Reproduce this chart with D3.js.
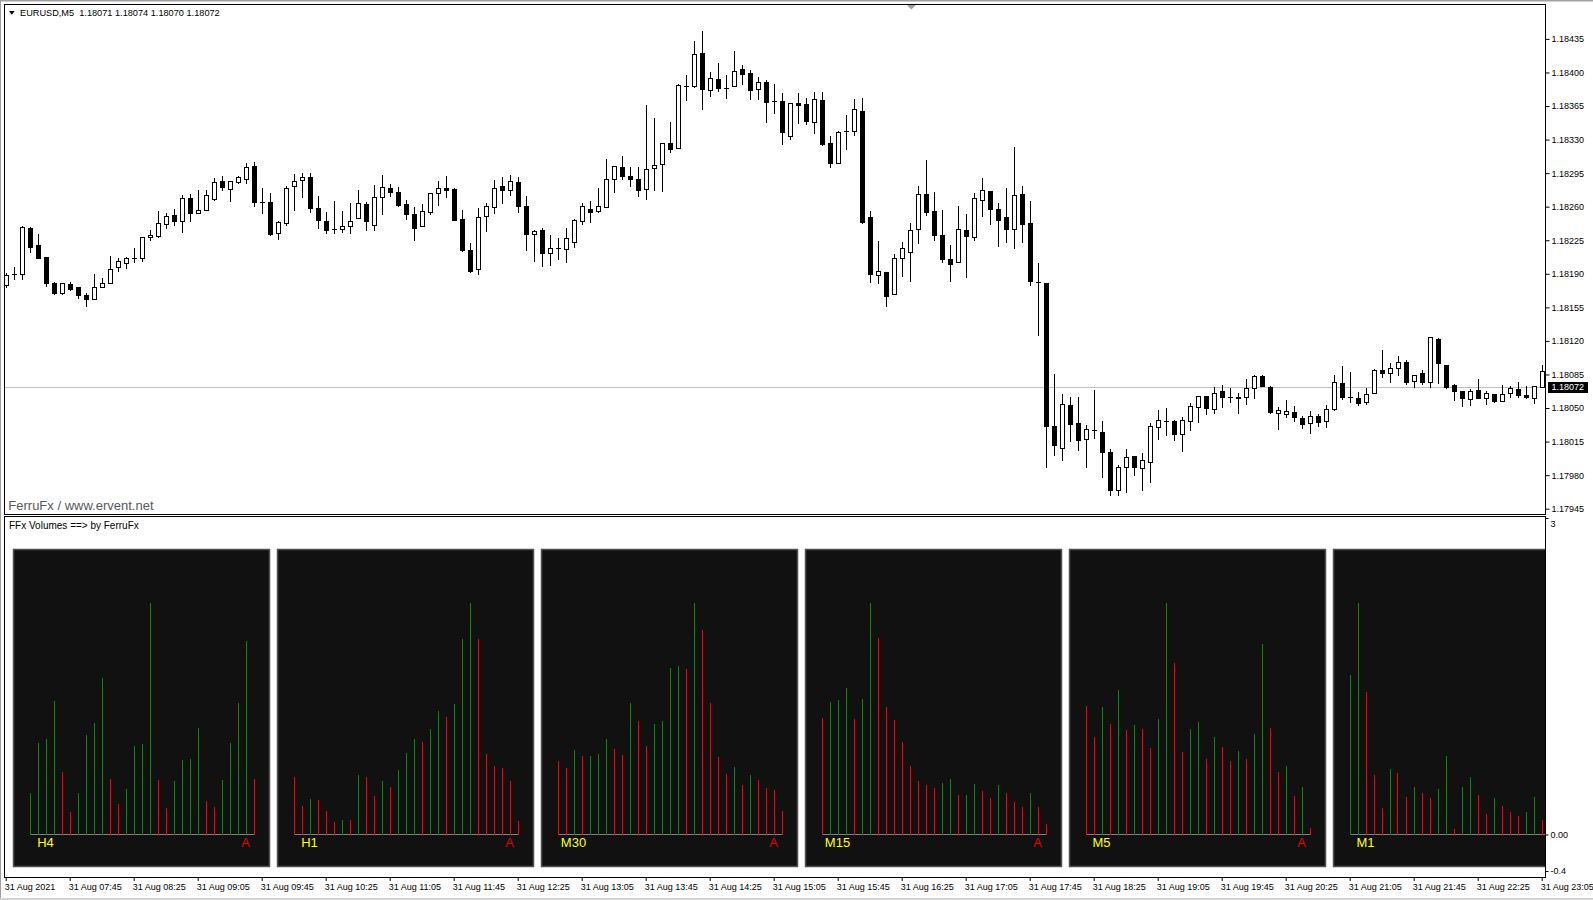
<!DOCTYPE html>
<html lang="en">
<head>
<meta charset="UTF-8">
<title>EURUSD,M5 - FFx Volumes</title>
<script src="https://d3js.org/d3.v7.min.js"></script>
<style>
  html, body { margin: 0; padding: 0; background: #fff; overflow: hidden; }
  svg { display: block; font-family: "Liberation Sans", Arial, sans-serif; }
</style>
</head>
<body>
<div id="chart"></div>
<script>
// EURUSD M5, 31 Aug 2021 07:05 .. 23:05 (193 bars)
const open = [
  1.18178,1.18190,1.18190,1.18238,1.18220,1.18208,1.18180,1.18170,1.18179,1.18176,
  1.18168,1.18164,1.18176,1.18180,1.18197,1.18201,1.18206,1.18206,1.18228,1.18229,
  1.18242,1.18251,1.18245,1.18269,1.18253,1.18257,1.18268,1.18287,1.18278,1.18286,
  1.18289,1.18302,1.18265,1.18265,1.18233,1.18243,1.18282,1.18288,1.18291,1.18259,
  1.18245,1.18237,1.18237,1.18240,1.18248,1.18263,1.18241,1.18270,1.18279,1.18275,
  1.18263,1.18252,1.18240,1.18254,1.18274,1.18280,1.18278,1.18247,1.18215,1.18195,
  1.18250,1.18260,1.18282,1.18277,1.18286,1.18261,1.18232,1.18236,1.18212,1.18217,
  1.18216,1.18223,1.18245,1.18258,1.18255,1.18260,1.18289,1.18301,1.18292,1.18289,
  1.18278,1.18300,1.18305,1.18326,1.18321,1.18386,1.18386,1.18420,1.18382,1.18393,
  1.18384,1.18386,1.18404,1.18399,1.18383,1.18390,1.18370,1.18370,1.18334,1.18368,
  1.18367,1.18348,1.18371,1.18326,1.18306,1.18339,1.18339,1.18360,1.18249,1.18189,
  1.18192,1.18169,1.18207,1.18213,1.18237,1.18273,1.18256,1.18230,1.18205,1.18202,
  1.18236,1.18228,1.18267,1.18276,1.18258,1.18249,1.18237,1.18273,1.18243,1.18181,
  1.18180,1.18031,1.18008,1.18053,1.18034,1.18018,1.18027,1.18025,1.18004,1.17964,
  1.17988,1.18000,1.17987,1.17994,1.18030,1.18036,1.18036,1.18023,1.18036,1.18051,
  1.18063,1.18049,1.18068,1.18061,1.18060,1.18061,1.18071,1.18083,1.18072,1.18045,
  1.18044,1.18046,1.18040,1.18034,1.18042,1.18036,1.18049,1.18076,1.18061,1.18060,
  1.18056,1.18066,1.18090,1.18087,1.18092,1.18098,1.18078,1.18087,1.18077,1.18122,
  1.18095,1.18074,1.18068,1.18059,1.18069,1.18060,1.18065,1.18057,1.18066,1.18070,
  1.18064,1.18060,1.18072
];
const high = [
  1.18191,1.18197,1.18240,1.18239,1.18231,1.18208,1.18181,1.18180,1.18181,1.18176,
  1.18170,1.18190,1.18186,1.18209,1.18207,1.18208,1.18217,1.18228,1.18236,1.18256,
  1.18253,1.18258,1.18272,1.18273,1.18277,1.18277,1.18290,1.18292,1.18287,1.18292,
  1.18306,1.18307,1.18280,1.18274,1.18245,1.18282,1.18294,1.18295,1.18295,1.18271,
  1.18254,1.18266,1.18256,1.18264,1.18277,1.18265,1.18283,1.18293,1.18284,1.18281,
  1.18267,1.18260,1.18263,1.18274,1.18287,1.18292,1.18279,1.18257,1.18222,1.18259,
  1.18264,1.18288,1.18291,1.18293,1.18291,1.18271,1.18236,1.18238,1.18230,1.18227,
  1.18238,1.18247,1.18264,1.18266,1.18279,1.18310,1.18302,1.18313,1.18301,1.18301,
  1.18366,1.18352,1.18326,1.18348,1.18388,1.18397,1.18433,1.18443,1.18400,1.18410,
  1.18397,1.18422,1.18408,1.18403,1.18395,1.18392,1.18388,1.18379,1.18368,1.18379,
  1.18373,1.18380,1.18380,1.18334,1.18339,1.18356,1.18372,1.18373,1.18255,1.18224,
  1.18192,1.18211,1.18223,1.18243,1.18282,1.18309,1.18275,1.18257,1.18220,1.18261,
  1.18252,1.18274,1.18290,1.18276,1.18264,1.18279,1.18322,1.18282,1.18266,1.18201,
  1.18180,1.18085,1.18065,1.18061,1.18061,1.18032,1.18069,1.18036,1.18007,1.17991,
  1.18007,1.18000,1.18003,1.18034,1.18048,1.18050,1.18038,1.18041,1.18055,1.18063,
  1.18063,1.18072,1.18074,1.18071,1.18066,1.18080,1.18084,1.18084,1.18073,1.18051,
  1.18058,1.18052,1.18042,1.18047,1.18044,1.18053,1.18084,1.18094,1.18088,1.18067,
  1.18071,1.18091,1.18111,1.18097,1.18104,1.18100,1.18084,1.18090,1.18124,1.18123,
  1.18095,1.18075,1.18068,1.18070,1.18080,1.18068,1.18065,1.18074,1.18073,1.18077,
  1.18073,1.18073,1.18095
];
const low = [
  1.18176,1.18185,1.18185,1.18213,1.18207,1.18177,1.18169,1.18169,1.18173,1.18165,
  1.18156,1.18164,1.18176,1.18180,1.18193,1.18196,1.18202,1.18203,1.18225,1.18228,
  1.18238,1.18241,1.18234,1.18245,1.18253,1.18257,1.18267,1.18277,1.18266,1.18285,
  1.18285,1.18261,1.18253,1.18230,1.18226,1.18241,1.18257,1.18270,1.18254,1.18238,
  1.18233,1.18233,1.18234,1.18233,1.18248,1.18236,1.18236,1.18252,1.18271,1.18261,
  1.18247,1.18225,1.18240,1.18252,1.18262,1.18270,1.18246,1.18214,1.18192,1.18190,
  1.18235,1.18253,1.18264,1.18272,1.18254,1.18215,1.18203,1.18198,1.18199,1.18205,
  1.18202,1.18218,1.18242,1.18244,1.18254,1.18260,1.18275,1.18289,1.18282,1.18271,
  1.18268,1.18277,1.18276,1.18317,1.18321,1.18371,1.18385,1.18362,1.18375,1.18381,
  1.18373,1.18386,1.18388,1.18372,1.18372,1.18348,1.18358,1.18325,1.18331,1.18347,
  1.18346,1.18337,1.18324,1.18301,1.18306,1.18320,1.18335,1.18243,1.18181,1.18180,
  1.18156,1.18169,1.18188,1.18182,1.18222,1.18251,1.18225,1.18202,1.18183,1.18202,
  1.18187,1.18225,1.18250,1.18242,1.18219,1.18223,1.18217,1.18223,1.18178,1.18126,
  1.17988,1.18001,1.17996,1.18016,1.18006,1.17989,1.18019,1.17978,1.17959,1.17959,
  1.17962,1.17980,1.17964,1.17973,1.18018,1.18022,1.18017,1.18005,1.18027,1.18035,
  1.18044,1.18045,1.18051,1.18056,1.18045,1.18054,1.18060,1.18073,1.18045,1.18028,
  1.18041,1.18036,1.18029,1.18024,1.18031,1.18030,1.18048,1.18059,1.18056,1.18053,
  1.18054,1.18066,1.18082,1.18077,1.18084,1.18075,1.18072,1.18075,1.18072,1.18076,
  1.18071,1.18058,1.18052,1.18053,1.18060,1.18054,1.18056,1.18057,1.18061,1.18061,
  1.18060,1.18055,1.18072
];
const close = [
  1.18189,1.18190,1.18239,1.18218,1.18207,1.18180,1.18170,1.18180,1.18174,1.18168,
  1.18164,1.18176,1.18180,1.18195,1.18203,1.18206,1.18206,1.18228,1.18230,1.18243,
  1.18250,1.18245,1.18269,1.18253,1.18257,1.18272,1.18286,1.18281,1.18287,1.18291,
  1.18301,1.18265,1.18265,1.18232,1.18244,1.18279,1.18287,1.18291,1.18259,1.18246,
  1.18236,1.18237,1.18240,1.18245,1.18264,1.18245,1.18270,1.18281,1.18275,1.18262,
  1.18252,1.18238,1.18255,1.18274,1.18280,1.18277,1.18246,1.18215,1.18193,1.18249,
  1.18261,1.18280,1.18277,1.18287,1.18261,1.18231,1.18235,1.18212,1.18217,1.18217,
  1.18227,1.18246,1.18261,1.18254,1.18261,1.18289,1.18302,1.18292,1.18289,1.18277,
  1.18299,1.18303,1.18326,1.18320,1.18387,1.18386,1.18419,1.18383,1.18394,1.18384,
  1.18384,1.18402,1.18398,1.18382,1.18390,1.18369,1.18370,1.18338,1.18368,1.18366,
  1.18349,1.18372,1.18325,1.18306,1.18338,1.18339,1.18362,1.18244,1.18190,1.18193,
  1.18167,1.18206,1.18217,1.18236,1.18273,1.18254,1.18230,1.18205,1.18200,1.18237,
  1.18229,1.18269,1.18277,1.18258,1.18246,1.18237,1.18272,1.18242,1.18182,1.18181,
  1.18031,1.18011,1.18054,1.18033,1.18017,1.18028,1.18027,1.18004,1.17964,1.17989,
  1.17999,1.17988,1.17996,1.18031,1.18037,1.18036,1.18023,1.18037,1.18052,1.18063,
  1.18050,1.18066,1.18061,1.18061,1.18062,1.18071,1.18083,1.18073,1.18046,1.18048,
  1.18047,1.18041,1.18033,1.18042,1.18035,1.18049,1.18077,1.18062,1.18061,1.18055,
  1.18065,1.18090,1.18087,1.18092,1.18098,1.18077,1.18084,1.18077,1.18124,1.18097,
  1.18072,1.18068,1.18060,1.18068,1.18060,1.18066,1.18057,1.18065,1.18071,1.18064,
  1.18062,1.18073,1.18089
];

const timeLabels = ["31 Aug 2021","31 Aug 07:45","31 Aug 08:25","31 Aug 09:05","31 Aug 09:45",
  "31 Aug 10:25","31 Aug 11:05","31 Aug 11:45","31 Aug 12:25","31 Aug 13:05","31 Aug 13:45",
  "31 Aug 14:25","31 Aug 15:05","31 Aug 15:45","31 Aug 16:25","31 Aug 17:05","31 Aug 17:45",
  "31 Aug 18:25","31 Aug 19:05","31 Aug 19:45","31 Aug 20:25","31 Aug 21:05","31 Aug 21:45",
  "31 Aug 22:25","31 Aug 23:05"];
const priceTicks = [1.18435,1.18400,1.18365,1.18330,1.18295,1.18260,1.18225,1.18190,
  1.18155,1.18120,1.18085,1.18050,1.18015,1.17980,1.17945];
const lastPrice = 1.18072;
const header = "EURUSD,M5  1.18071 1.18074 1.18070 1.18072";

// FFx Volumes panels (relative volume, % of panel max; 1 = up bar)
const tfNames = ["H4","H1","M30","M15","M5","M1"];
const volH4  = [18,39.5,41.2,57.6,26.9,9.7,18,42.9,48.1,67.6,23.9,13.1,19.6,38.2,39,100,23.5,11.4,23.1,32.1,32.6,46,14.4,11.8,23.5,39.5,56.8,83.6,23.9];
const upH4   = [1,1,1,1,0,0,1,1,1,1,0,0,1,1,1,1,0,0,1,1,1,1,0,0,1,1,1,1,0];
const volH1  = [24.8,12.2,15.3,14.8,10.1,5.3,6.2,6.2,25.6,24.8,16.6,23.1,20.5,27.8,35.2,41.2,39.9,45.5,53.3,50.7,56.3,84.4,100,84.4,34.7,29.5,28.7,23.1,5.8];
const upH1   = [0,0,1,0,0,0,1,0,1,0,0,1,0,1,1,1,0,1,1,0,1,1,1,0,0,0,0,0,0];
const volM30 = [31.7,28.7,36.5,33.9,33.9,34.7,41.2,36.9,34.3,56.8,49,38.2,47.7,49,71.9,72.8,71.5,100,88.3,56.8,33.4,26.1,29.1,21.3,25.6,23.5,20,19.2,10.1];
const upM30  = [0,0,1,0,1,1,1,0,0,1,0,0,1,1,1,1,0,1,0,0,0,0,1,0,1,0,0,0,0];
const volM15 = [50.3,57.2,58.1,63.3,49.9,58.5,100,84.9,55,49.4,39.9,29.5,23.1,21.3,20,22.2,23.9,17,17,21.8,18.7,15.7,21.3,17.9,14,11.8,17.9,11.8,4.5];
const upM15  = [0,1,1,1,0,1,1,0,0,0,0,0,0,0,0,1,1,0,1,1,0,0,1,0,0,0,1,0,0];
const volM5  = [55.5,42.1,55,47.7,62.4,45.1,47.3,45.5,37.3,49.9,100,74.1,35.6,45.5,48.6,32.6,42.1,37.8,31.7,36,32.6,43.4,82.3,46,26.9,29.5,16.6,20.5,2.7];
const upM5   = [0,0,1,0,1,0,1,0,0,1,1,0,0,1,1,0,1,0,0,1,0,1,1,0,0,1,0,1,0];
const volM1  = [68.9,100,61.5,25.6,11.4,28.2,26.5,16.1,20.5,17.9,15.7,19.6,33.9,2.3,20.5,24.8,17,8.8,15.7,12.2,9.7,7.9,9.7,16.1,6.2];
const upM1   = [1,1,0,0,0,1,0,0,1,0,0,1,1,0,1,1,0,0,1,0,0,0,1,1,0];
const indTicks = [0, -0.4];
const indTickLabels = ["0.00", "-0.4"];
const indMaxLabel = "3";

// ---- layout
const W = 1593, H = 900;
const leftX = 4.5, rightX = 1545.5;
const mainTop = 4.5, mainBottom = 514, indTop = 516.5, indBottom = 877;

const svg = d3.select("#chart").append("svg")
  .attr("width", W).attr("height", H);

svg.append("rect").attr("width", W).attr("height", H).attr("fill", "#fff");
svg.append("rect").attr("x", 0).attr("y", 0).attr("width", W).attr("height", 1.5).attr("fill", "#a0a0a0");
svg.append("rect").attr("x", 0).attr("y", 0).attr("width", 1).attr("height", H).attr("fill", "#a0a0a0");
svg.append("rect").attr("x", 0).attr("y", H - 2).attr("width", W).attr("height", 2).attr("fill", "#d4d4d4");

const defs = svg.append("defs");
defs.append("clipPath").attr("id", "clipMain").append("rect")
  .attr("x", leftX + 0.5).attr("y", mainTop + 0.5)
  .attr("width", rightX - leftX - 1).attr("height", mainBottom - mainTop - 1);
defs.append("clipPath").attr("id", "clipInd").append("rect")
  .attr("x", leftX + 0.5).attr("y", indTop + 0.5)
  .attr("width", rightX - leftX - 1).attr("height", indBottom - indTop - 1);

// ---- scales
const t0 = new Date(2021, 7, 31, 7, 5);
const barTime = i => d3.timeMinute.offset(t0, 5 * i);
const x = d3.scaleTime()
  .domain([barTime(0), barTime(open.length - 1)])
  .range([5.7, 1541.7]);
const y = d3.scaleLinear()
  .domain([priceTicks[priceTicks.length - 1], priceTicks[0]])
  .range([508.7, 38.9]);

// ---- main chart
const main = svg.append("g").attr("clip-path", "url(#clipMain)");

const ly = Math.round(y(lastPrice)) + 0.5;
main.append("line")
  .attr("x1", leftX).attr("x2", rightX).attr("y1", ly).attr("y2", ly)
  .attr("stroke", "#c0c0c0");

const bars = d3.range(open.length).map(i => ({
  i, o: open[i], h: high[i], l: low[i], c: close[i]
}));

const candle = main.append("g").selectAll("g").data(bars).join("g")
  .attr("shape-rendering", "crispEdges");

candle.append("line")
  .attr("x1", d => Math.round(x(barTime(d.i))) + 0.5)
  .attr("x2", d => Math.round(x(barTime(d.i))) + 0.5)
  .attr("y1", d => Math.round(y(d.h)))
  .attr("y2", d => Math.round(y(d.l)) + 1)
  .attr("stroke", "#000");

candle.each(function (d) {
  const g = d3.select(this);
  const cx = Math.round(x(barTime(d.i))) + 0.5;
  const yo = Math.round(y(d.o)), yc = Math.round(y(d.c));
  if (yo === yc) {
    g.append("line")
      .attr("x1", cx - 2.5).attr("x2", cx + 2.5)
      .attr("y1", yc + 0.5).attr("y2", yc + 0.5)
      .attr("stroke", "#000");
  } else if (d.c > d.o) {
    g.append("rect")
      .attr("x", cx - 2).attr("y", yc + 0.5)
      .attr("width", 4).attr("height", yo - yc)
      .attr("fill", "#fff").attr("stroke", "#000");
  } else {
    g.append("rect")
      .attr("x", cx - 2.5).attr("y", yo)
      .attr("width", 5).attr("height", yc - yo + 1)
      .attr("fill", "#000");
  }
});

// header
svg.append("path")
  .attr("d", "M9,11L14.7,11L11.85,14.7Z").attr("fill", "#000");
svg.append("text")
  .attr("x", 20).attr("y", 16)
  .attr("font-size", 9.2).attr("fill", "#000")
  .style("white-space", "pre")
  .text(header);

// chart shift marker
svg.append("path")
  .attr("d", "M906.7,5L916,5L911.3,9.5Z").attr("fill", "#a0a0a0");

svg.append("text")
  .attr("x", 8.3).attr("y", 510.2)
  .attr("font-size", 13).attr("fill", "#555a60")
  .text("FerruFx / www.ervent.net");

// price axis
const yAxis = d3.axisRight(y)
  .tickValues(priceTicks)
  .tickFormat(d3.format(".5f"))
  .tickSize(4).tickPadding(2);
const gy = svg.append("g")
  .attr("transform", `translate(${rightX},0)`)
  .call(yAxis)
  .attr("font-family", null).attr("font-size", 9);
gy.select(".domain").remove();
gy.selectAll("text").attr("fill", "#000");
gy.selectAll("line").attr("stroke", "#000");

svg.append("rect")
  .attr("x", 1548).attr("y", ly - 5.5)
  .attr("width", 40).attr("height", 11)
  .attr("fill", "#000");
svg.append("text")
  .attr("x", 1551.5).attr("y", ly).attr("dy", "0.33em")
  .attr("font-size", 9).attr("fill", "#fff")
  .text(d3.format(".5f")(lastPrice));

// ---- indicator window
svg.append("text")
  .attr("x", 9).attr("y", 528.6)
  .attr("font-size", 10).attr("fill", "#000")
  .text("FFx Volumes ==> by FerruFx");

const ind = svg.append("g").attr("clip-path", "url(#clipInd)");
const panels = [
  { vol: volH4, up: upH4 }, { vol: volH1, up: upH1 }, { vol: volM30, up: upM30 },
  { vol: volM15, up: upM15 }, { vol: volM5, up: upM5 }, { vol: volM1, up: upM1 }
];
const vy = d3.scaleLinear().domain([0, 100]).range([834.5, 603]);
const panelW = 256, panelH = 317, panelTop = 549.5, panelStep = 264;

panels.forEach((p, k) => {
  const left = 13.5 + panelStep * k;
  const vx = d3.scaleLinear().domain([0, 28]).range([left + 16, left + 16 + 224]);
  const g = ind.append("g");
  g.append("rect")
    .attr("x", left).attr("y", panelTop)
    .attr("width", panelW).attr("height", panelH)
    .attr("fill", "#111111").attr("stroke", "#505050").attr("stroke-width", 1.5);
  g.append("line")
    .attr("x1", Math.round(vx(0)) + 0.5).attr("x2", Math.round(vx(28)) + 0.5)
    .attr("y1", vy(0)).attr("y2", vy(0))
    .attr("stroke", "#808080").attr("shape-rendering", "crispEdges");
  g.selectAll("line.vol").data(p.vol).join("line")
    .attr("class", "vol")
    .attr("x1", (d, i) => Math.round(vx(i)) + 0.5)
    .attr("x2", (d, i) => Math.round(vx(i)) + 0.5)
    .attr("y1", vy(0))
    .attr("y2", d => vy(d))
    .attr("stroke", (d, i) => p.up[i] ? "#0a8a0a" : "#ff0000")
    .attr("shape-rendering", "crispEdges");
  g.append("text")
    .attr("x", vx(2)).attr("y", 846.5)
    .attr("text-anchor", "middle")
    .attr("font-size", 13).attr("fill", "#ffff00")
    .text(tfNames[k]);
  // the right-hand "A" marker falls off the window for the last panel
  if (vx(27) + 5 < rightX) {
    g.append("text")
      .attr("x", vx(27)).attr("y", 846.5)
      .attr("text-anchor", "middle")
      .attr("font-size", 13).attr("fill", "#e00000")
      .text("A");
  }
});

// indicator axis
const yInd = d3.scaleLinear().domain([-0.4, 0]).range([871, 834.5]);
const gi = svg.append("g")
  .attr("transform", `translate(${rightX},0)`)
  .call(d3.axisRight(yInd).tickValues(indTicks)
    .tickFormat((d, i) => indTickLabels[i]).tickSize(3).tickPadding(2))
  .attr("font-family", null).attr("font-size", 9);
gi.select(".domain").remove();
gi.selectAll("text").attr("fill", "#000");
gi.selectAll("line").attr("stroke", "#000");
svg.append("line")
  .attr("x1", rightX).attr("x2", rightX + 3).attr("y1", 518.5).attr("y2", 518.5)
  .attr("stroke", "#000");
svg.append("text")
  .attr("x", rightX + 5).attr("y", 523.6).attr("dy", "0.33em")
  .attr("font-size", 9).attr("fill", "#000")
  .text(indMaxLabel);

// ---- time axis
const tickIdx = d3.range(0, open.length, 8);
const xAxis = d3.axisBottom(x)
  .tickValues(tickIdx.map(barTime))
  .tickFormat((d, i) => timeLabels[i])
  .tickSize(4).tickSizeOuter(0);
const gx = svg.append("g")
  .attr("transform", `translate(0,${indBottom})`)
  .call(xAxis)
  .attr("font-family", null).attr("font-size", 9);
gx.select(".domain").remove();
gx.selectAll("line").attr("stroke", "#000");
gx.selectAll("text")
  .attr("fill", "#000")
  .attr("text-anchor", "start")
  .attr("x", -1.5).attr("y", 13.3).attr("dy", null);

// ---- window frames
const frame = svg.append("g").attr("stroke", "#000").attr("fill", "none")
  .attr("shape-rendering", "crispEdges");
frame.append("rect")
  .attr("x", leftX).attr("y", mainTop)
  .attr("width", rightX - leftX).attr("height", mainBottom - mainTop);
frame.append("rect")
  .attr("x", leftX).attr("y", indTop)
  .attr("width", rightX - leftX).attr("height", indBottom - indTop);
</script>
</body>
</html>
